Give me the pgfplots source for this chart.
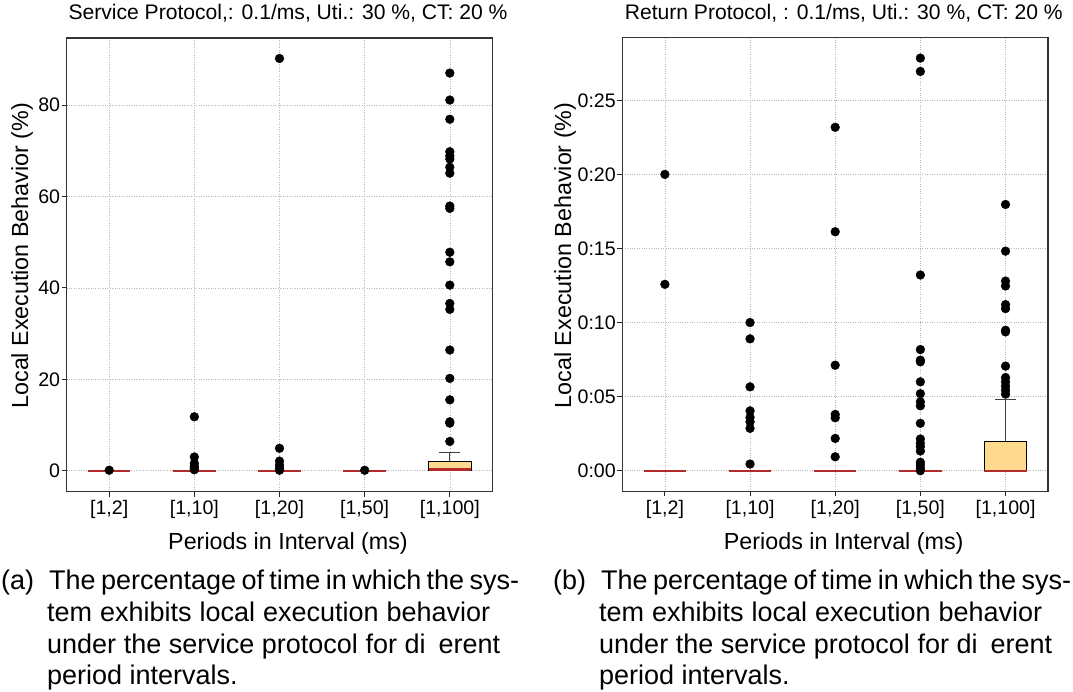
\documentclass[border=0pt]{standalone}
\usepackage{fontspec}
\setmainfont{Liberation Sans}
\usepackage{pgfplots}
\pgfplotsset{compat=1.18}
\usepgfplotslibrary{statistics}
\definecolor{boxfill}{RGB}{254,217,142}
\definecolor{medred}{RGB}{178,42,42}
\newcommand{\capfont}{\fontsize{27}{31}\selectfont}
\newcommand{\capline}[2]{{\spaceskip=0.05em plus 1fil\makebox[#1][s]{#2}}}
\pgfplotsset{
  common/.style={
    scale only axis, width=425.8pt, height=453.8pt,
    xmin=0.5, xmax=5.5, xtick={1,2,3,4,5},
    xticklabels={{[1,2]},{[1,10]},{[1,20]},{[1,50]},{[1,100]}},
    tick align=outside, xtick pos=left, ytick pos=left,
    major tick length=5pt,
    tick style={black!85, line width=1pt},
    grid=major, major grid style={dotted, black!28, line width=0.6pt},
    axis line style={black!80, line width=1.3pt},
    ticklabel style={font=\fontsize{19.6}{23}\selectfont},
    yticklabel style={xshift=2pt},
    /pgf/number format/assume math mode=true,
    title style={font=\fontsize{21.1}{25}\selectfont, at={(axis description cs:0.52,1)}, anchor=base, yshift=12pt},
    xlabel={Periods in Interval (ms)},
    ylabel={Local Execution Behavior (\%)},
    label style={font=\fontsize{23.3}{28}\selectfont},
    xlabel style={at={(axis description cs:0.52,0)}, anchor=base, yshift=-58pt},
  },
  bx/.style={mark=*, mark size=4.4pt, mark options={draw=black, fill=black, solid}, draw=black,
    boxplot/draw direction=y,
    boxplot/box extend=0.5, boxplot/whisker extend=0.25,
    boxplot/every box/.style={draw=black, fill=boxfill, line width=1.1pt},
    boxplot/every median/.style={draw=medred, line width=2.2pt},
    boxplot/every whisker/.style={draw=black!75, line width=1.1pt}},
  zb/.style={bx, boxplot/every box/.style={draw=none, fill=none}, boxplot/every whisker/.style={draw=none}},
}
\begin{document}
\begin{tikzpicture}
\path (0pt,0pt) rectangle (1073pt,-691pt);
% ---------------- left ----------------
\begin{axis}[common, at={(66.6pt,-37.9pt)}, anchor=north west,
  ymin=-4.6, ymax=94.7, ytick={0,20,40,60,80}, yticklabels={0,20,40,60,80},
  title={Service Protocol,: 0.1/ms, Uti.: 30 \%, CT: 20 \%},
  ylabel style={at={(axis description cs:-0.1047,0.52)}, anchor=center}]
\addplot[zb, boxplot prepared={draw position=1, lower whisker=0, lower quartile=0, median=0, upper quartile=0, upper whisker=0}]
  coordinates {(0,0.1)};
\addplot[zb, boxplot prepared={draw position=2, lower whisker=0, lower quartile=0, median=0, upper quartile=0, upper whisker=0}]
  coordinates {(0,11.8) (0,3.0) (0,1.6) (0,1.0) (0,0.6) (0,0.2)};
\addplot[zb, boxplot prepared={draw position=3, lower whisker=0, lower quartile=0, median=0, upper quartile=0, upper whisker=0}]
  coordinates {(0,90.2) (0,4.9) (0,2.1) (0,1.2) (0,0.5) (0,0.1)};
\addplot[zb, boxplot prepared={draw position=4, lower whisker=0, lower quartile=0, median=0, upper quartile=0, upper whisker=0}]
  coordinates {(0,0.1)};
\addplot[bx, boxplot prepared={draw position=5, lower whisker=0, lower quartile=0, median=0.28, upper quartile=1.95, upper whisker=4.07}]
  coordinates {(0,87.0) (0,81.1) (0,76.9) (0,69.8) (0,68.9) (0,68.2) (0,66.4) (0,65.1) (0,57.9) (0,57.4) (0,47.8) (0,45.7) (0,40.6) (0,36.6) (0,35.3) (0,26.4) (0,20.2) (0,15.5) (0,10.7) (0,10.4) (0,6.4)};
\end{axis}
% ---------------- right ----------------
\begin{axis}[common, at={(622.3pt,-37.5pt)}, anchor=north west,
  ymin=-0.0139, ymax=0.2924, ytick={0,0.05,0.1,0.15,0.2,0.25},
  yticklabels={{0:00},{0:05},{0:10},{0:15},{0:20},{0:25}},
  title={Return Protocol, : 0.1/ms, Uti.: 30 \%, CT: 20 \%},
  ylabel style={at={(axis description cs:-0.1345,0.52)}, anchor=center}]
\addplot[zb, boxplot prepared={draw position=1, lower whisker=0, lower quartile=0, median=0, upper quartile=0, upper whisker=0}]
  coordinates {(0,0.200) (0,0.1258)};
\addplot[zb, boxplot prepared={draw position=2, lower whisker=0, lower quartile=0, median=0, upper quartile=0, upper whisker=0}]
  coordinates {(0,0.100) (0,0.089) (0,0.0566) (0,0.0404) (0,0.036) (0,0.033) (0,0.0286) (0,0.0045)};
\addplot[zb, boxplot prepared={draw position=3, lower whisker=0, lower quartile=0, median=0, upper quartile=0, upper whisker=0}]
  coordinates {(0,0.2318) (0,0.1613) (0,0.0712) (0,0.038) (0,0.0357) (0,0.0218) (0,0.0094)};
\addplot[zb, boxplot prepared={draw position=4, lower whisker=0, lower quartile=0, median=0, upper quartile=0, upper whisker=0}]
  coordinates {(0,0.2785) (0,0.2695) (0,0.1321) (0,0.0818) (0,0.0746) (0,0.0735) (0,0.060) (0,0.052) (0,0.0465) (0,0.0438) (0,0.032) (0,0.0214) (0,0.0185) (0,0.0162) (0,0.0133) (0,0.0057) (0,0.0038) (0,0.0016) (0,0.0)};
\addplot[bx, boxplot prepared={draw position=5, lower whisker=0, lower quartile=0, median=0, upper quartile=0.0196, upper whisker=0.0483}]
  coordinates {(0,0.1797) (0,0.1482) (0,0.128) (0,0.1247) (0,0.1121) (0,0.1094) (0,0.0948) (0,0.0937) (0,0.0706) (0,0.0629) (0,0.060) (0,0.0571) (0,0.0544) (0,0.0517)};
\end{axis}
% ---------------- captions ----------------
\foreach \dx/\lab in {0pt/(a), 552pt/(b)}{
  \node[anchor=base west, font=\capfont, inner sep=0pt] at ([xshift=\dx]1pt,-589pt) {\lab};
  \node[anchor=base west, font=\capfont, inner sep=0pt] at ([xshift=\dx]49pt,-589pt) {\capline{470pt}{The percentage of time in which the sys-}};
  \node[anchor=base west, font=\capfont, inner sep=0pt] at ([xshift=\dx]47pt,-621pt) {\capline{443pt}{tem exhibits local execution behavior}};
  \node[anchor=base west, font=\capfont, inner sep=0pt] at ([xshift=\dx]47pt,-653pt) {\capline{453pt}{under the service protocol for di\hspace{13pt}erent}};
  \node[anchor=base west, font=\capfont, inner sep=0pt] at ([xshift=\dx]47pt,-684.5pt) {period intervals.};
}
\end{tikzpicture}
\end{document}
